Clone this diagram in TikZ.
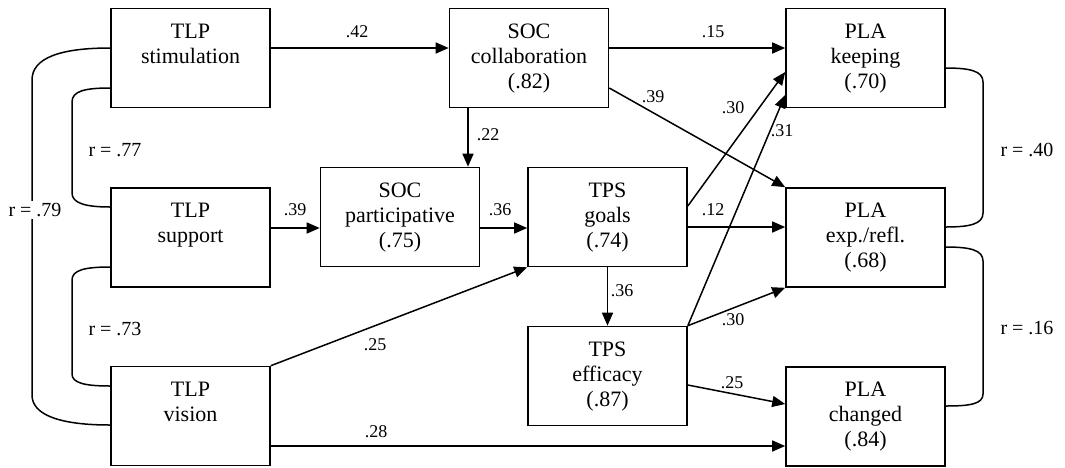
\documentclass[tikz,border=0pt]{standalone}
\usepackage{fontspec}
\setmainfont{Liberation Serif}
\usetikzlibrary{arrows.meta}
\begin{document}
\begin{tikzpicture}[x=1pt,y=-1pt,
 box/.style={draw, line width=1.6pt, minimum width=159pt, minimum height=99pt, align=center, inner sep=0pt, font=\fontsize{22}{25}\selectfont},
 effect/.style={line width=1.5pt, -{Triangle[length=13pt,width=11pt]}},
 corr/.style={line width=1.5pt},
 coef/.style={font=\fontsize{18}{20}\selectfont, inner sep=1pt},
 rlab/.style={font=\fontsize{20}{22}\selectfont, fill=white, inner sep=2pt}]
\useasboundingbox[fill=white] (0,0) rectangle (1065,467);

% boxes
\node[box] (stim) at (190.5,58) {\strut TLP\\\strut stimulation\\\strut};
\node[box] (supp) at (190.5,237.5) {\strut TLP\\\strut support\\\strut};
\node[box] (vis) at (190.5,416) {\strut TLP\\\strut vision\\\strut};
\node[box] (coll) at (529,58) {\strut SOC\\\strut collaboration\\\strut (.82)};
\node[box] (part) at (400,217) {\strut SOC\\\strut participative\\\strut (.75)};
\node[box] (goals) at (607.5,217) {\strut TPS\\\strut goals\\\strut (.74)};
\node[box] (eff) at (607.5,376) {\strut TPS\\\strut efficacy\\\strut (.87)};
\node[box] (keep) at (865.5,58) {\strut PLA\\\strut keeping\\\strut (.70)};
\node[box] (exp) at (865.5,237.5) {\strut PLA\\\strut exp./refl.\\\strut (.68)};
\node[box] (chg) at (865.5,416.5) {\strut PLA\\\strut changed\\\strut (.84)};

% helper coordinates
\coordinate (s1) at ([yshift=9.5pt]supp.east);
\coordinate (g1) at ([yshift=-10pt]goals.east);
\coordinate (v1) at ([yshift=-30pt]vis.east);
\coordinate (c0) at ([xshift=-61pt]coll.south);

% paths
\draw[effect] ([yshift=10pt]stim.east) -- ([yshift=10pt]coll.west);
\draw[effect] ([yshift=10pt]coll.east) -- ([yshift=10pt]keep.west);
\draw[effect] ([yshift=-30pt]coll.east) -- (exp.north west);
\draw[effect] (c0) -- (c0 |- part.north);
\draw[effect] (s1) -- (part.west |- s1);
\draw[effect] ([yshift=-11pt]part.east) -- ([yshift=-11pt]goals.west);
\draw[effect] ([yshift=11pt]goals.east) -- ([yshift=-14pt]keep.west);
\draw[effect] (g1) -- (exp.west |- g1);
\draw[effect] (eff.north east) -- ([yshift=-37pt]keep.west);
\draw[effect] (eff.north east) -- (exp.south west);
\draw[effect] (goals.south) -- (eff.north);
\draw[effect] (vis.north east) -- (goals.south west);
\draw[effect] ([yshift=-9pt]eff.east) -- ([yshift=12.5pt]chg.west);
\draw[effect] (v1) -- (chg.west |- v1);

% coefficients
\node[coef] (c1) at (357,32) {.42};
\node[coef] (c2) at (713,32) {.15};
\node[coef] (c3) at (653,97) {.39};
\node[coef] (c4) at (488,135) {.22};
\node[coef] (c5) at (295,210) {.39};
\node[coef] (c6) at (500,210) {.36};
\node[coef] (c7) at (733,108) {.30};
\node[coef] (c8) at (713,210) {.12};
\node[coef] (c9) at (782,131) {.31};
\node[coef] (c10) at (733,320) {.30};
\node[coef] (c11) at (622,291) {.36};
\node[coef] (c12) at (375,345) {.25};
\node[coef] (c13) at (732,383) {.25};
\node[coef] (c14) at (376,432) {.28};

% correlations left
\draw[corr] ([yshift=10pt]stim.west) .. controls (60,48) and (32,58) .. (32,80) -- (32,395) .. controls (32,415) and (60,425) .. ([yshift=-9pt]vis.west);
\draw[corr] ([yshift=-30pt]stim.west) .. controls (85,88) and (72,91) .. (72,102) -- (72,193) .. controls (72,203) and (85,207) .. ([yshift=30.5pt]supp.west);
\draw[corr] ([yshift=-29.5pt]supp.west) .. controls (85,267) and (72,270) .. (72,280) -- (72,374) .. controls (72,383) and (85,386) .. ([yshift=30pt]vis.west);
% correlations right
\draw[corr] ([yshift=-10pt]keep.east) .. controls (970,68) and (983,71) .. (983,82) -- (983,213) .. controls (983,224) and (970,227) .. ([yshift=10.5pt]exp.east);
\draw[corr] ([yshift=-9.5pt]exp.east) .. controls (970,247) and (983,250) .. (983,261) -- (983,394) .. controls (983,404) and (970,406) .. ([yshift=10.5pt]chg.east);

\node[rlab] (r79) at (35,210) {r = .79};
\node[rlab] (r77) at (115,150) {r = .77};
\node[rlab] (r73) at (115,329) {r = .73};
\node[rlab] (r40) at (1027,150) {r = .40};
\node[rlab] (r16) at (1027,328) {r = .16};
\end{tikzpicture}
\end{document}
